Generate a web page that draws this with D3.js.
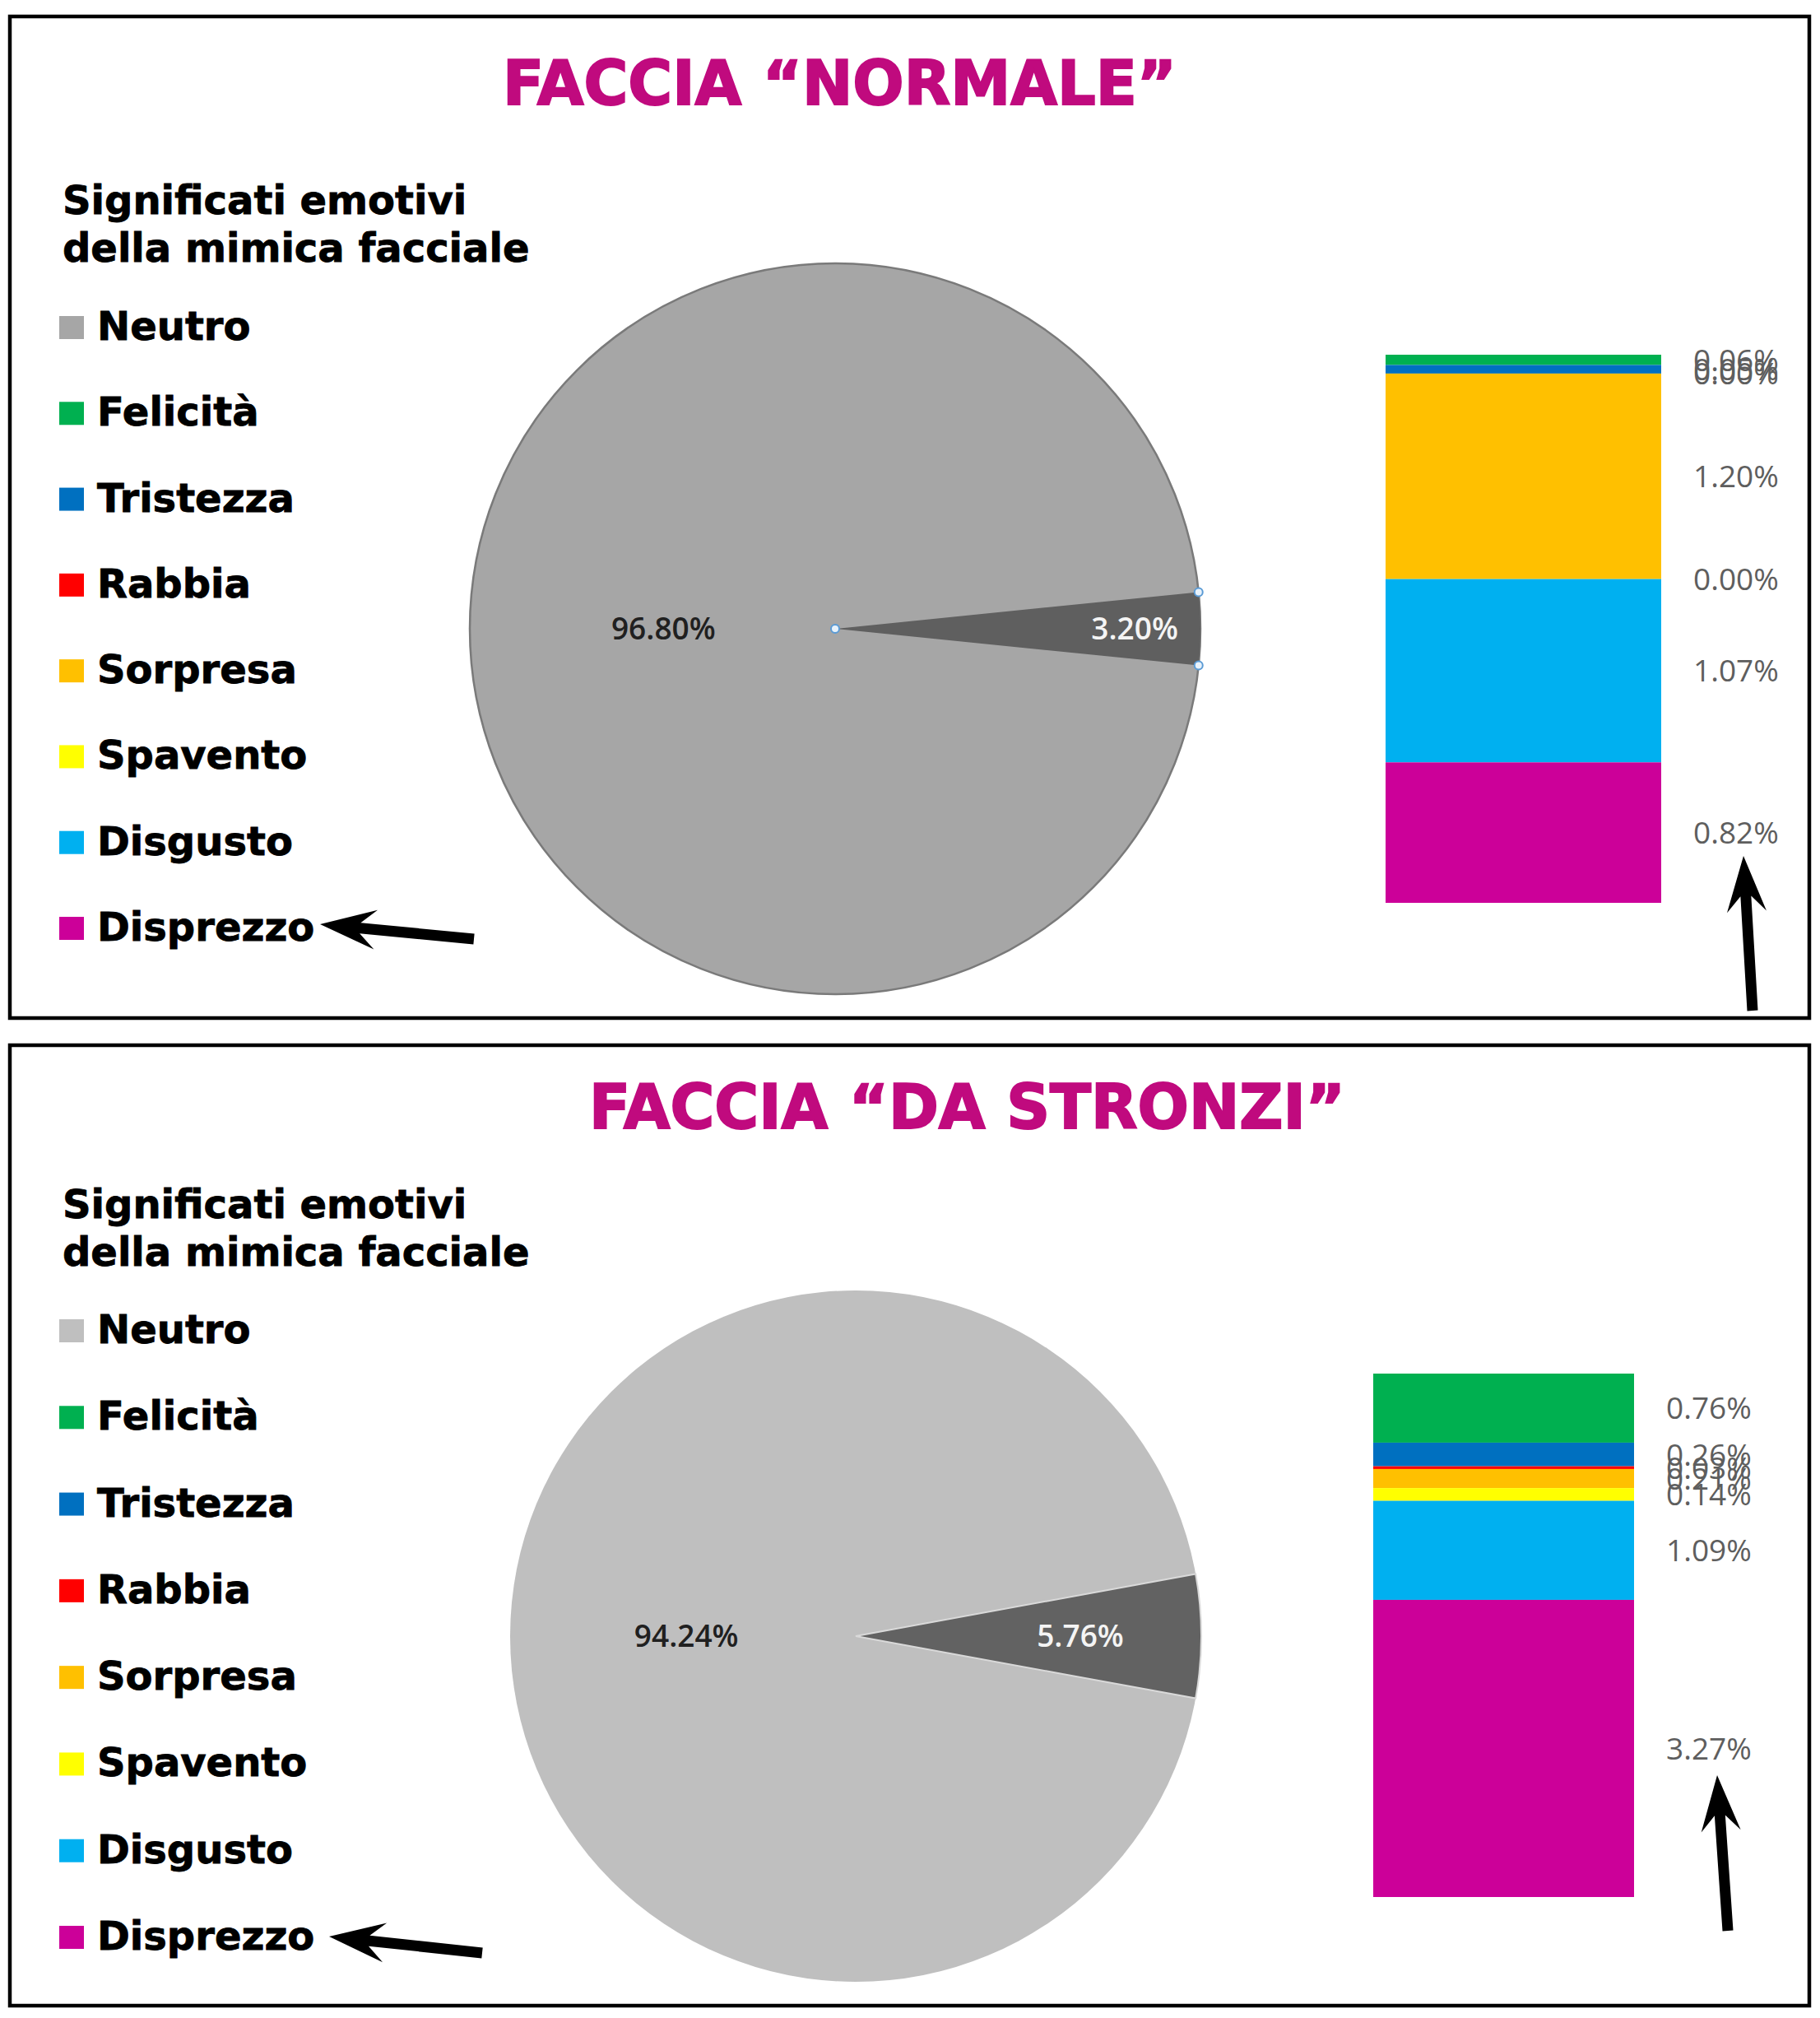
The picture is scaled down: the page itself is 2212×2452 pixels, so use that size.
<!DOCTYPE html>
<html>
<head>
<meta charset="utf-8">
<script src="https://cdn.jsdelivr.net/npm/d3@7"></script>
<style>
  body { margin: 0; background: #fff; }
  svg { display: block; }
</style>
</head>
<body>
<div class="chart"></div>
<script>
// categories and values
const emotions = ['Neutro', 'Felicità', 'Tristezza', 'Rabbia', 'Sorpresa', 'Spavento', 'Disgusto', 'Disprezzo'];
const barEmotions = emotions.slice(1);
const titles = ['FACCIA “NORMALE”', 'FACCIA “DA STRONZI”'];
const legendTitle = ['Significati emotivi', 'della mimica facciale'];

const normalPie = [96.80, 3.20];
const normalBar = [0.06, 0.05, 0.00, 1.20, 0.00, 1.07, 0.82];

const stronziPie = [94.24, 5.76];
const stronziBar = [0.76, 0.26, 0.03, 0.21, 0.14, 1.09, 3.27];

const width = 2212, height = 2452;

const color = d3.scaleOrdinal()
    .domain(barEmotions)
    .range(['#00B050', '#0070C0', '#FF0000', '#FFC000', '#FFFF00', '#00B0F0', '#CC0099']);

const fmt = d => d3.format('.2f')(d) + '%';

const svg = d3.select('.chart')
    .append('svg')
    .attr('width', width)
    .attr('height', height);

// layout of the two panels
const panels = [
  {pie: normalPie, bar: normalBar, title: titles[0],
   box: [12, 20, 2187, 1217], titleX: 611, titleY: 127, titleLen: 819,
   headY: 260, legY: [413, 1143],
   cx: 1015, cy: 764, r: 444, neutral: '#A6A6A6', dark: '#5F5F5F', pieStroke: '#7a7a7a',
   labR: [0.47, 0.82], handles: true,
   barX: [1684, 2019], barY: [431, 1097], labX: 2058,
   arrows: [[[576, 1141], [389, 1123]], [[2130, 1228], [2119, 1040]]]},
  {pie: stronziPie, bar: stronziBar, title: titles[1],
   box: [12, 1270, 2187, 1167], titleX: 716, titleY: 1371, titleLen: 919,
   headY: 1480, legY: [1632, 2369],
   cx: 1040, cy: 1988, r: 420, neutral: '#BFBFBF', dark: '#626262', pieStroke: 'none',
   labR: [0.49, 0.65], handles: false,
   barX: [1669, 1986], barY: [1669, 2305], labX: 2025,
   arrows: [[[586, 2373], [400, 2353]], [[2100, 2346], [2087, 2157]]]}
];

function arrow(g, tail, tip) {
  const dx = tip[0] - tail[0], dy = tip[1] - tail[1];
  const len = Math.hypot(dx, dy);
  const u = [dx / len, dy / len], n = [-u[1], u[0]];
  const L = 68, W = 24, s = 6.5;
  const p = (a, b) => [tip[0] - u[0] * a + n[0] * b, tip[1] - u[1] * a + n[1] * b];
  const pts = [tip, p(L, W), p(L * 0.72, s), [tail[0] + n[0] * s, tail[1] + n[1] * s],
               [tail[0] - n[0] * s, tail[1] - n[1] * s], p(L * 0.72, -s), p(L, -W)];
  g.append('path')
   .attr('d', d3.line()(pts) + 'Z')
   .attr('fill', '#000');
}

panels.forEach(P => {
  const g = svg.append('g');

  g.append('rect')
   .attr('x', P.box[0]).attr('y', P.box[1])
   .attr('width', P.box[2]).attr('height', P.box[3])
   .attr('fill', 'none')
   .attr('stroke', '#000')
   .attr('stroke-width', 4.5);

  g.append('text')
   .attr('x', P.titleX).attr('y', P.titleY)
   .attr('textLength', P.titleLen)
   .attr('lengthAdjust', 'spacingAndGlyphs')
   .attr('font-family', 'DejaVu Sans')
   .attr('font-weight', 'bold')
   .attr('font-size', 74)
   .attr('fill', '#C00A7E')
   .attr('stroke', '#C00A7E')
   .attr('stroke-width', 2)
   .text(P.title);

  // legend
  legendTitle.forEach((t, i) => {
    g.append('text')
     .attr('x', 76).attr('y', P.headY + i * 58)
     .attr('font-family', 'DejaVu Sans')
     .attr('font-weight', 'bold')
     .attr('font-size', 48)
     .attr('stroke', '#000')
     .attr('stroke-width', 0.8)
     .text(t);
  });

  const ly = d3.scaleLinear().domain([0, emotions.length - 1]).range(P.legY);
  const leg = g.selectAll('.leg')
    .data(emotions)
    .enter()
    .append('g')
    .attr('class', 'leg')
    .attr('transform', (d, i) => `translate(0, ${ly(i)})`);
  leg.append('rect')
     .attr('x', 72).attr('y', -29)
     .attr('width', 30).attr('height', 28)
     .attr('fill', d => d === 'Neutro' ? P.neutral : color(d));
  leg.append('text')
     .attr('x', 118).attr('y', 0)
     .attr('font-family', 'DejaVu Sans')
     .attr('font-weight', 'bold')
     .attr('font-size', 48)
     .attr('stroke', '#000')
     .attr('stroke-width', 0.8)
     .text(d => d);

  // pie: the small slice is centred on 3 o'clock
  const frac = P.pie[1] / d3.sum(P.pie);
  const start = Math.PI / 2 - frac * Math.PI;
  const pie = d3.pie().sort(null).startAngle(start).endAngle(start + 2 * Math.PI);
  const arcs = pie([P.pie[1], P.pie[0]]);
  const arc = d3.arc().innerRadius(0).outerRadius(P.r);
  const pg = g.append('g').attr('transform', `translate(${P.cx}, ${P.cy})`);

  pg.append('circle')
    .attr('r', P.r)
    .attr('fill', P.neutral)
    .attr('stroke', P.pieStroke)
    .attr('stroke-width', 2.5);
  pg.append('path')
    .attr('d', arc(arcs[0]))
    .attr('fill', P.dark)
    .attr('stroke', P.handles ? 'none' : '#d9d9d9')
    .attr('stroke-width', 2);

  const labArcs = [arcs[1], arcs[0]];
  const labCols = ['#202020', '#f4f4f4'];
  labArcs.forEach((a, i) => {
    const rr = P.r * P.labR[i];
    const c = d3.arc().innerRadius(rr).outerRadius(rr).centroid(a);
    pg.append('text')
      .attr('x', c[0]).attr('y', c[1])
      .attr('dy', '0.36em')
      .attr('text-anchor', 'middle')
      .attr('font-family', 'Open Sans')
      .attr('font-weight', 600)
      .attr('font-size', 37)
      .attr('fill', labCols[i])
      .text(fmt(a.data));
  });

  if (P.handles) {
    const pts = [[0, 0], [P.r * Math.sin(arcs[0].startAngle), -P.r * Math.cos(arcs[0].startAngle)],
                 [P.r * Math.sin(arcs[0].endAngle), -P.r * Math.cos(arcs[0].endAngle)]];
    pg.selectAll('.handle')
      .data(pts)
      .enter()
      .append('circle')
      .attr('cx', d => d[0]).attr('cy', d => d[1])
      .attr('r', 5)
      .attr('fill', '#e8f2fb')
      .attr('stroke', '#5b9bd5')
      .attr('stroke-width', 2);
  }

  // stacked bar of the small slice
  const yScale = d3.scaleLinear()
                   .domain([0, d3.sum(P.bar)])
                   .range(P.barY);
  const cum = d3.cumsum(P.bar);
  const segs = P.bar.map((v, i) => ({name: barEmotions[i], v: v, y0: cum[i] - v, y1: cum[i]}));

  g.selectAll('.seg')
   .data(segs)
   .enter()
   .append('rect')
   .attr('x', P.barX[0])
   .attr('width', P.barX[1] - P.barX[0])
   .attr('y', d => yScale(d.y0))
   .attr('height', d => yScale(d.y1) - yScale(d.y0))
   .attr('fill', d => color(d.name));

  // labels overlap where segments are thin, as in the original
  g.selectAll('.seglab')
   .data(segs)
   .enter()
   .append('text')
   .attr('x', P.labX)
   .attr('y', d => yScale((d.y0 + d.y1) / 2))
   .attr('dy', '0.36em')
   .attr('font-family', 'Open Sans')
   .attr('font-size', 37)
   .attr('fill', '#5e5e5e')
   .text(d => fmt(d.v));

  P.arrows.forEach(a => arrow(g, a[0], a[1]));
});
</script>
</body>
</html>
